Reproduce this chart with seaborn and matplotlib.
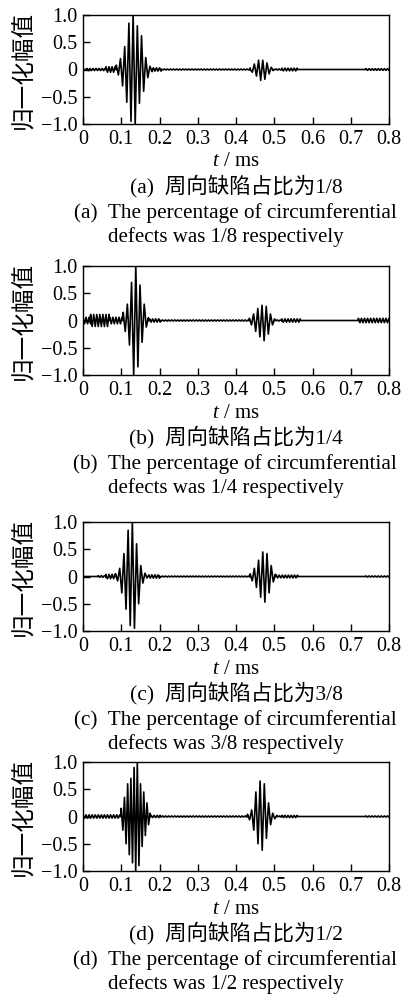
import numpy as np
import pandas as pd
import matplotlib
matplotlib.use("Agg")
import matplotlib.pyplot as plt
import seaborn as sns

# ---------------- data ----------------
panel_ids = ["a", "b", "c", "d"]
ratios = ["1/8", "1/4", "3/8", "1/2"]

# extrema of the direct (incident) wave packet: start time (ms), half period (ms), peak values
main_start = {"a": 0.087, "b": 0.105, "c": 0.085, "d": 0.100}
main_half = {"a": 0.0055, "b": 0.0055, "c": 0.0055, "d": 0.0042}
main_peaks = {
    "a": [0.08, -0.10, 0.20, -0.30, 0.42, -0.60, 0.85, -0.95, 1.00, -1.00, 0.80, -0.62,
          0.62, -0.40, 0.22, -0.15, 0.06, -0.04],
    "b": [0.15, -0.20, 0.30, -0.45, 0.70, -1.00, 1.00, -0.85, 0.65, -0.40, 0.30, -0.12, 0.05],
    "c": [0.05, -0.08, 0.15, -0.30, 0.42, -0.60, 0.85, -0.90, 1.00, -0.95, 0.60, -0.50,
          0.20, -0.12, 0.06, -0.03],
    "d": [0.15, -0.25, 0.35, -0.50, 0.60, -0.70, 0.70, -0.85, 0.90, -1.00, 1.00, -0.90,
          0.60, -0.55, 0.45, -0.35, 0.25, -0.15, 0.06],
}

# extrema of the defect echo packet
echo_start = {"a": 0.437, "b": 0.435, "c": 0.437, "d": 0.430}
echo_half = {"a": 0.0055, "b": 0.0055, "c": 0.0055, "d": 0.0055}
echo_peaks = {
    "a": [0.03, -0.05, 0.10, -0.12, 0.17, -0.20, 0.17, -0.18, 0.12, -0.08, 0.04, -0.02],
    "b": [0.04, -0.08, 0.12, -0.20, 0.22, -0.30, 0.28, -0.37, 0.26, -0.25, 0.12, -0.08, 0.03],
    "c": [0.05, -0.08, 0.15, -0.20, 0.30, -0.38, 0.45, -0.47, 0.42, -0.30, 0.20, -0.10, 0.04],
    "d": [0.04, -0.06, 0.12, -0.25, 0.45, -0.50, 0.65, -0.62, 0.60, -0.40, 0.25, -0.15,
          0.06, -0.04, 0.02],
}

# small ripples: (start ms, end ms, amplitude)
ripples = {
    "a": [(0.010, 0.060, 0.020), (0.060, 0.085, 0.050), (0.184, 0.205, 0.030),
          (0.205, 0.435, 0.008), (0.505, 0.520, 0.010), (0.520, 0.560, 0.025),
          (0.740, 0.800, 0.015)],
    "b": [(0.000, 0.020, 0.060), (0.020, 0.070, 0.110), (0.070, 0.103, 0.060),
          (0.174, 0.200, 0.030), (0.200, 0.433, 0.010), (0.508, 0.520, 0.010),
          (0.520, 0.570, 0.030), (0.720, 0.800, 0.040)],
    "c": [(0.040, 0.060, 0.015), (0.060, 0.083, 0.040), (0.172, 0.200, 0.030),
          (0.200, 0.435, 0.008), (0.505, 0.560, 0.025), (0.740, 0.800, 0.010)],
    "d": [(0.000, 0.098, 0.030), (0.178, 0.200, 0.020), (0.200, 0.428, 0.010),
          (0.514, 0.520, 0.010), (0.520, 0.560, 0.020), (0.740, 0.800, 0.010)],
}
ripple_half = 0.004

x_ticks = [0, 0.1, 0.2, 0.3, 0.4, 0.5, 0.6, 0.7, 0.8]
x_tick_labels = ["0", "0.1", "0.2", "0.3", "0.4", "0.5", "0.6", "0.7", "0.8"]
y_ticks = [-1.0, -0.5, 0, 0.5, 1.0]
y_tick_labels = ["\u22121.0", "\u22120.5", "0", "0.5", "1.0"]


def build_signal(pid):
    segs = []
    s = main_start[pid]
    segs.append([(s + k * main_half[pid], v) for k, v in enumerate(main_peaks[pid])])
    s = echo_start[pid]
    segs.append([(s + k * echo_half[pid], v) for k, v in enumerate(echo_peaks[pid])])
    for (a, b, amp) in ripples[pid]:
        n = int(round((b - a) / ripple_half))
        segs.append([(a + k * ripple_half, amp * (1 if k % 2 == 0 else -1)) for k in range(n + 1)])
    segs.sort(key=lambda sg: sg[0][0])
    pts = [(0.0, 0.0)]
    for sg in segs:
        pts.append((sg[0][0] - 0.0005, 0.0))
        pts.extend(sg)
        pts.append((sg[-1][0] + 0.0005, 0.0))
    pts.append((0.8, 0.0))
    pts = sorted(pts, key=lambda p: p[0])
    return pd.DataFrame(pts, columns=["t", "amp"])


# ---------------- figure ----------------
sns.set_theme(style="ticks")
plt.rcParams["font.family"] = ["Liberation Serif", "Noto Sans CJK SC", "DejaVu Sans"]
plt.rcParams["mathtext.fontset"] = "custom"
plt.rcParams["mathtext.it"] = "Liberation Serif:italic"
plt.rcParams["mathtext.rm"] = "Liberation Serif"

W, H = 403, 998
fig = plt.figure(figsize=(W / 100, H / 100), dpi=100)
fig.patch.set_facecolor("white")

axes_top_px = [15, 266, 522, 762]
axes_h_px = 109
left_px, right_px = 83, 389

cap_cn_font = ["Liberation Serif", "Noto Sans CJK SC"]

for i, pid in enumerate(panel_ids):
    top = axes_top_px[i]
    bottom = top + axes_h_px
    ax = fig.add_axes([left_px / W, 1 - bottom / H, (right_px - left_px) / W, axes_h_px / H])
    df = build_signal(pid)
    sns.lineplot(data=df, x="t", y="amp", ax=ax, color="black", linewidth=1.2,
                 estimator=None, sort=False)
    ax.set_xlim(0, 0.8)
    ax.set_ylim(-1.0, 1.0)
    ax.set_xticks(x_ticks)
    ax.set_xticklabels(x_tick_labels)
    ax.set_yticks(y_ticks)
    ax.set_yticklabels(y_tick_labels)
    ax.tick_params(direction="in", length=5, width=1, labelsize=14.5, colors="black",
                   top=False, right=False)
    ax.tick_params(axis="x", pad=4)
    ax.tick_params(axis="y", pad=4)
    for sp in ax.spines.values():
        sp.set_visible(True)
        sp.set_color("black")
        sp.set_linewidth(1.0)
    ax.set_facecolor("white")
    ax.set_xlabel("$t$ / ms", fontsize=15, color="black")
    ax.xaxis.set_label_coords(0.5, -(38) / axes_h_px, transform=ax.transAxes)
    ax.xaxis.label.set_va("center")
    ax.set_ylabel("归一化幅值", fontsize=17, color="black", family=["Noto Sans CJK SC"])
    ax.yaxis.set_label_coords(-(83 - 24) / (right_px - left_px), 0.5)
    ax.yaxis.label.set_va("center")

    cx = 236 / W
    fig.text(cx, 1 - (bottom + 62) / H, f"({pid})  周向缺陷占比为{ratios[i]}",
             ha="center", va="center", fontsize=15.5, family=cap_cn_font, color="black")
    fig.text(cx - 1 / W, 1 - (bottom + 89) / H, f"({pid})  The percentage of circumferential",
             ha="center", va="center", fontsize=15.3, color="black")
    fig.text(cx - 10 / W, 1 - (bottom + 113) / H, f"defects was {ratios[i]} respectively",
             ha="center", va="center", fontsize=15.0, color="black")

fig.savefig("out.png", dpi=100, facecolor="white")
